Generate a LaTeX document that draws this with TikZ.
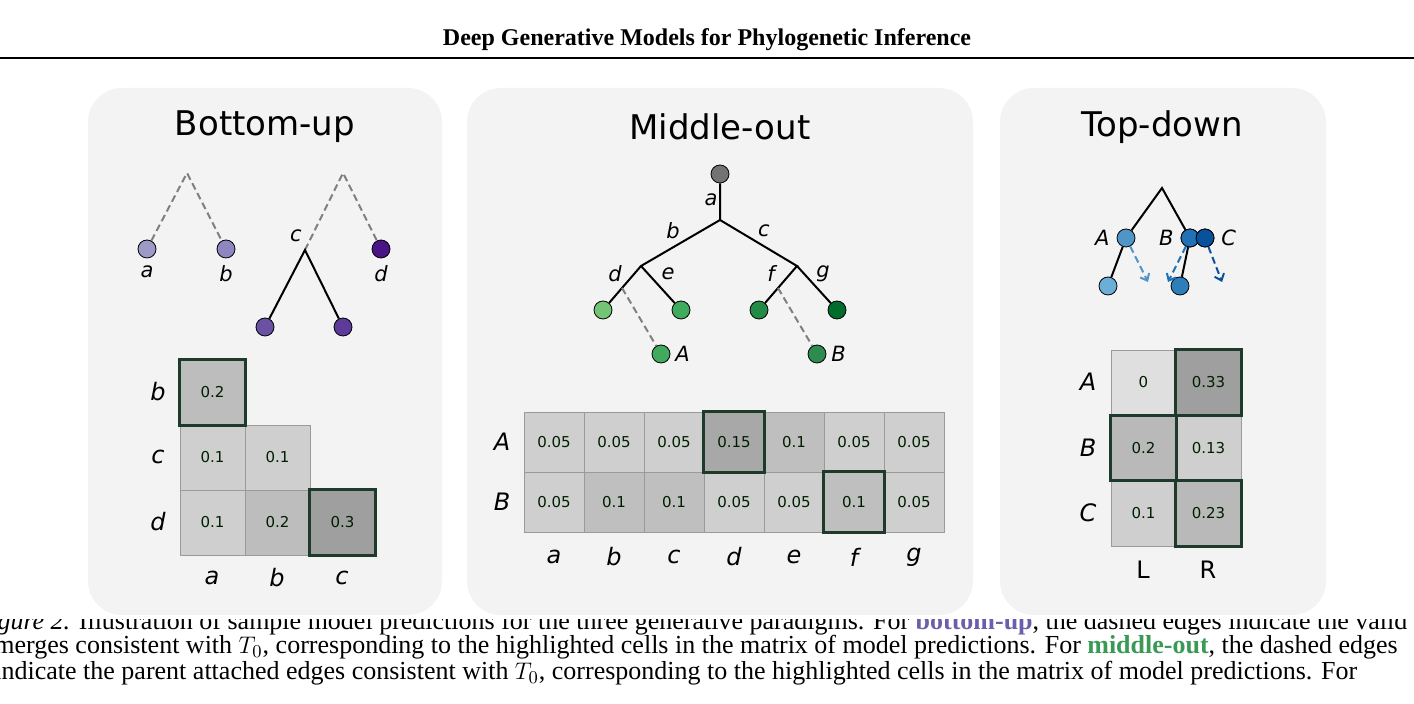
\documentclass[tikz,border=0pt]{standalone}
\usepackage{fontspec}
\setmainfont{Liberation Serif}
\setsansfont{DejaVu Sans}
\usetikzlibrary{arrows.meta}
\usetikzlibrary{positioning}
\definecolor{panelc}{HTML}{F3F3F3}
\definecolor{hlc}{HTML}{1E3A2A}
\definecolor{cellline}{HTML}{9A9A9A}
\definecolor{purpleA}{HTML}{9E9AC8}
\definecolor{purpleB}{HTML}{8D86C1}
\definecolor{purpleC}{HTML}{6A51A3}
\definecolor{purpleE}{HTML}{5E3A99}
\definecolor{purpleD}{HTML}{4A1486}
\definecolor{greenA}{HTML}{74C476}
\definecolor{greenB}{HTML}{41AB5D}
\definecolor{greenC}{HTML}{238B45}
\definecolor{greenD}{HTML}{006D2C}
\definecolor{greenE}{HTML}{2E8B4F}
\definecolor{blueA}{HTML}{4F95C8}
\definecolor{blueL}{HTML}{6BAED6}
\definecolor{blueB}{HTML}{2171B5}
\definecolor{blueC}{HTML}{08519C}
\definecolor{blueM}{HTML}{2C7FB8}
\definecolor{bottomc}{HTML}{6A5FA8}
\definecolor{middlec}{HTML}{3A9A55}
\begin{document}
\begin{tikzpicture}
	[x=0.5pt, y=-0.5pt,
	panel/.style = {fill=panelc, rounded corners=17pt},
	title/.style = {font=\sffamily\fontsize{17}{17}\selectfont},
	leaf/.style = {draw=black, circle, inner sep=0pt, minimum size=9pt, line width=0.4pt},
	lab/.style = {font=\sffamily\itshape\fontsize{10.5}{10.5}\selectfont},
	axis/.style = {font=\sffamily\itshape\fontsize{12}{12}\selectfont},
	cell/.style = {draw=cellline, line width=0.4pt, minimum size=#1, inner sep=0pt,
		font=\sffamily\fontsize{7.5}{7.5}\selectfont, text=black!80!green!60!black},
	cell/.default = {32.5pt},
	hl/.style = {draw=hlc, line width=1.5pt},
	edge/.style = {line width=1pt},
	dashedge/.style = {line width=1pt, dash pattern=on 3.5pt off 2pt, gray},
	darrow/.style = {dashedge, -{Straight Barb[length=3pt,width=5pt]}}
	]
	\useasboundingbox (0,0) rectangle (1414,704);

	% header
	\node[font=\bfseries\fontsize{12}{12}\selectfont] (head) at (707,40) {Deep Generative Models for Phylogenetic Inference};
	\draw[line width=1pt] (0,58) -- (1414,58);

	% panels
	\fill[panel] (88,88) rectangle (442,615);
	\fill[panel] (467,88) rectangle (973,615);
	\fill[panel] (1000,88) rectangle (1326,615);
	\node[title] (t1) at (265,127) {Bottom-up};
	\node[title] (t2) at (720,127) {Middle-out};
	\node[title] (t3) at (1162,127) {Top-down};

	% bottom-up trees
	\coordinate (p1) at (187,173);
	\coordinate (p2) at (343,173);
	\coordinate (jc) at (305,250);
	\node[leaf, fill=purpleA] (la) at (147,249) {};
	\node[leaf, fill=purpleB] (lb) at (226,249) {};
	\node[leaf, fill=purpleD] (ld) at (381,249) {};
	\node[leaf, fill=purpleC] (lc1) at (265,327) {};
	\node[leaf, fill=purpleE] (lc2) at (343,327) {};
	\draw[dashedge] (la) -- (p1) -- (lb);
	\draw[dashedge] (jc) -- (p2) -- (ld);
	\draw[edge] (lc1) -- (jc) -- (lc2);
	\node[lab, below=0pt of la] {a};
	\node[lab, below=0pt of lb] {b};
	\node[lab, below=0pt of ld] {d};
	\node[lab] at (296,236) {c};

	% bottom-up matrix
	\node[cell, fill=gray!52] (bu-ba) at (212.5,392.5) {0.2};
	\node[cell, fill=gray!38] (bu-ca) at (212.5,457.5) {0.1};
	\node[cell, fill=gray!38] (bu-cb) at (277.5,457.5) {0.1};
	\node[cell, fill=gray!38] (bu-da) at (212.5,522.5) {0.1};
	\node[cell, fill=gray!52] (bu-db) at (277.5,522.5) {0.2};
	\node[cell, fill=gray!75] (bu-dc) at (342.5,522.5) {0.3};
	\draw[hl] (bu-ba.south west) rectangle (bu-ba.north east);
	\draw[hl] (bu-dc.south west) rectangle (bu-dc.north east);
	\foreach \n/\y in {b/392, c/457, d/522}
		\node[axis] at (158,\y) {\n};
	\foreach \n/\x in {a/212, b/277, c/342}
		\node[axis] at (\x,578) {\n};

	% middle-out tree
	\node[leaf, fill=gray!90!black] (root) at (720,174) {};
	\coordinate (ja) at (720,220);
	\coordinate (jb) at (641,266);
	\coordinate (jcc) at (797,266);
	\coordinate (md) at (622,288);
	\coordinate (mf) at (778,288);
	\node[leaf, fill=greenA] (ld2) at (603,310) {};
	\node[leaf, fill=greenB] (le) at (681,310) {};
	\node[leaf, fill=greenC] (lf) at (759,310) {};
	\node[leaf, fill=greenD] (lg) at (837,310) {};
	\node[leaf, fill=greenB] (nA) at (661,354) {};
	\node[leaf, fill=greenE] (nB) at (817,354) {};
	\draw[edge] (root) -- (ja) -- (jb) -- (ld2);
	\draw[edge] (jb) -- (le);
	\draw[edge] (ja) -- (jcc) -- (lf);
	\draw[edge] (jcc) -- (lg);
	\draw[dashedge] (md) -- (nA);
	\draw[dashedge] (mf) -- (nB);
	\node[lab] at (711,200) {a};
	\node[lab] at (673,231) {b};
	\node[lab] at (764,231) {c};
	\node[lab] at (615,274) {d};
	\node[lab] at (668,274) {e};
	\node[lab] at (771,274) {f};
	\node[lab] at (823,274) {g};
	\node[lab, right=-1pt of nA] {A};
	\node[lab, right=-1pt of nB] {B};

	% middle-out matrix
	\foreach \i/\v/\s in {0/0.05/38, 1/0.05/38, 2/0.05/38, 3/0.15/68, 4/0.1/50, 5/0.05/38, 6/0.05/38}
		\node[cell=30pt, fill=gray!\s] (mo-A\i) at (554+60*\i,442) {\v};
	\foreach \i/\v/\s in {0/0.05/38, 1/0.1/50, 2/0.1/50, 3/0.05/38, 4/0.05/38, 5/0.1/50, 6/0.05/38}
		\node[cell=30pt, fill=gray!\s] (mo-B\i) at (554+60*\i,502) {\v};
	\draw[hl] (mo-A3.south west) rectangle (mo-A3.north east);
	\draw[hl] (mo-B5.south west) rectangle (mo-B5.north east);
	\node[axis] at (502,442) {A};
	\node[axis] at (502,502) {B};
	\foreach \n [count=\i from 0] in {a,b,c,d,e,f,g}
		\node[axis] at (554+60*\i,557) {\n};

	% top-down tree
	\coordinate (top) at (1162,188);
	\node[leaf, fill=blueA] (tA) at (1126,238) {};
	\node[leaf, fill=blueB] (tB) at (1190,238) {};
	\node[leaf, fill=blueC] (tC) at (1205,238) {};
	\node[leaf, fill=blueL] (tl1) at (1108,286) {};
	\node[leaf, fill=blueM] (tl2) at (1180,286) {};
	\draw[edge] (tA) -- (top) -- (tB);
	\draw[edge] (tA) -- (tl1);
	\draw[edge] (tB) -- (tl2);
	\node[leaf, fill=blueB] at (tB) {};
	\node[leaf, fill=blueC] at (tC) {};
	\coordinate (eA) at (1148,282);
	\coordinate (eB) at (1168,282);
	\coordinate (eC) at (1222,282);
	\draw[darrow, blueA] (tA) -- (eA);
	\draw[darrow, blueB] (tB) -- (eB);
	\draw[darrow, blueC] (tC) -- (eC);
	\node[lab, left=0pt of tA] {A};
	\node[lab, left=0pt of tB] {B};
	\node[lab, right=0pt of tC] {C};

	% top-down matrix
	\node[cell, fill=gray!25] (td-AL) at (1143.5,382.5) {0};
	\node[cell, fill=gray!75] (td-AR) at (1208.5,382.5) {0.33};
	\node[cell, fill=gray!55] (td-BL) at (1143.5,448) {0.2};
	\node[cell, fill=gray!38] (td-BR) at (1208.5,448) {0.13};
	\node[cell, fill=gray!38] (td-CL) at (1143.5,513.5) {0.1};
	\node[cell, fill=gray!55] (td-CR) at (1208.5,513.5) {0.23};
	\draw[hl] (td-AR.south west) rectangle (td-AR.north east);
	\draw[hl] (td-BL.south west) rectangle (td-BL.north east);
	\draw[hl] (td-CR.south west) rectangle (td-CR.north east);
	\foreach \n/\y in {A/382, B/448, C/513}
		\node[axis] at (1088,\y) {\n};
	\node[font=\sffamily\fontsize{12}{12}\selectfont] at (1143,570) {L};
	\node[font=\sffamily\fontsize{12}{12}\selectfont] at (1208,570) {R};

	% caption
	\begin{scope}
		\clip (0,620) rectangle (1414,704);
		\begin{scope}[every node/.style={anchor=base west, inner sep=0pt, font=\fontsize{13}{13}\selectfont}]
			\node (cap1) at (-26,630) {\textit{Figure 2.} Illustration of sample model predictions for the three generative paradigms. For \textcolor{bottomc}{\textbf{bottom-up}}, the dashed edges indicate the valid};
			\node (cap2) at (-6,654) {merges consistent with $T_0$, corresponding to the highlighted cells in the matrix of model predictions. For \textcolor{middlec}{\textbf{middle-out}}, the dashed edges};
			\node (cap3) at (-6,680) {indicate the parent attached edges consistent with $T_0$, corresponding to the highlighted cells in the matrix of model predictions. For};
		\end{scope}
	\end{scope}
\end{tikzpicture}
\end{document}
